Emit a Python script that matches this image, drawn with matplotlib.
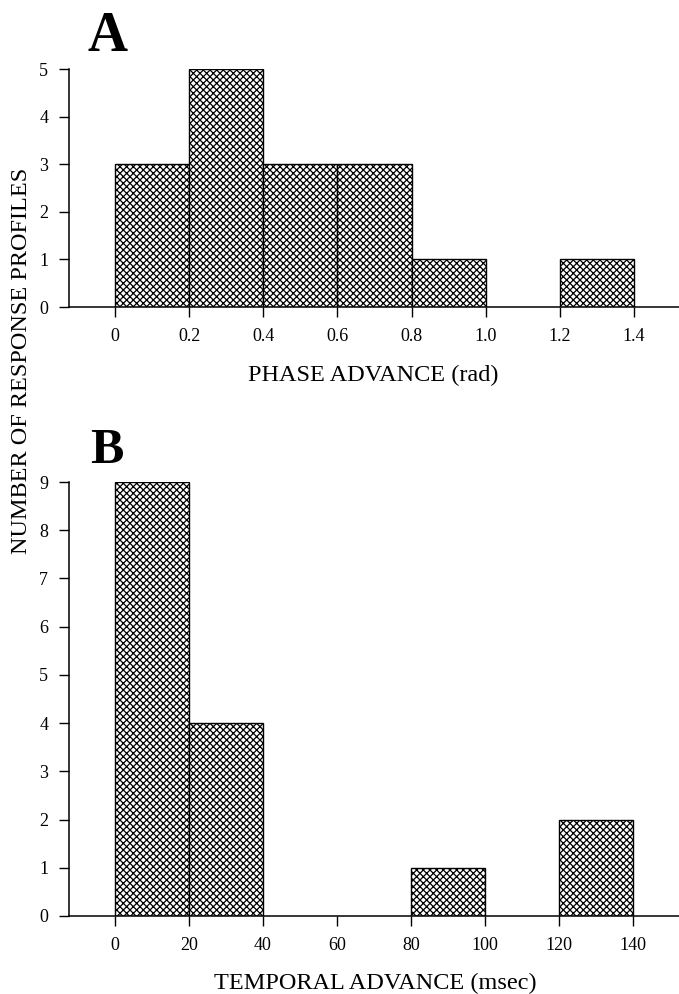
import matplotlib
matplotlib.use("Agg")
import matplotlib.pyplot as plt
import numpy as np

# ---- data ----
# A: phase advance histogram (rad)
phase_edges = [0, 0.2, 0.4, 0.6, 0.8, 1.0, 1.2, 1.4]
phase_counts = [3, 5, 3, 3, 1, 0, 1]
phase_ticks = [0, 0.2, 0.4, 0.6, 0.8, 1.0, 1.2, 1.4]
phase_ticklabels = ["0", "0.2", "0.4", "0.6", "0.8", "1.0", "1.2", "1.4"]

# B: temporal advance histogram (msec)
temp_edges = [0, 20, 40, 60, 80, 100, 120, 140]
temp_counts = [9, 4, 0, 0, 1, 0, 2]
temp_ticks = [0, 20, 40, 60, 80, 100, 120, 140]

plt.rcParams['font.family'] = ['Liberation Serif', 'DejaVu Serif']
plt.rcParams['hatch.linewidth'] = 0.9
plt.rcParams['hatch.color'] = 'black'

W, H = 679, 994
fig = plt.figure(figsize=(W / 100, H / 100), dpi=100)

def px_axes(left, top, right, bottom):
    return fig.add_axes([left / W, 1 - bottom / H, (right - left) / W, (bottom - top) / H])

def hist_panel(ax, edges, counts, ymax, xlim):
    lefts = np.array(edges[:-1])
    widths = np.diff(edges)
    for l, w, c in zip(lefts, widths, counts):
        if c > 0:
            ax.bar(l, c, width=w, align='edge', facecolor='white',
                   edgecolor='black', linewidth=1.0, hatch='xxxxx', zorder=2)
    ax.set_xlim(*xlim)
    ax.set_ylim(0, ymax)
    ax.set_yticks(range(0, ymax + 1))
    for s in ['top', 'right']:
        ax.spines[s].set_visible(False)
    ax.spines['left'].set_linewidth(1.1)
    ax.spines['bottom'].set_linewidth(1.1)
    ax.tick_params(axis='x', direction='out', length=7, width=1.0, pad=8, labelsize=13)
    ax.tick_params(axis='y', direction='out', length=7, width=1.0, pad=8, labelsize=13)

# panel A
axA = px_axes(69, 69, 679, 307)
hist_panel(axA, phase_edges, phase_counts, 5, (-0.124, 1.521))
axA.set_xticks(phase_ticks)
axA.set_xticklabels(phase_ticklabels)

# panel B
axB = px_axes(69, 482, 679, 916)
hist_panel(axB, temp_edges, temp_counts, 9, (-12.4, 152.4))
axB.set_xticks(temp_ticks)

fig.text(373 / W, 1 - 381 / H, "PHASE ADVANCE (rad)", fontsize=17.5,
         ha='center', va='baseline')
fig.text(375 / W, 1 - 989 / H, "TEMPORAL ADVANCE (msec)", fontsize=17.5,
         ha='center', va='baseline')

fig.text(22 / W, 1 - 361 / H, "NUMBER OF RESPONSE PROFILES", rotation=90,
         ha='center', va='center', fontsize=17.5)

fig.text(107 / W, 1 - 51 / H, "A", fontsize=40, fontweight='bold', ha='center', va='baseline')
fig.text(107 / W, 1 - 463 / H, "B", fontsize=36, fontweight='bold', ha='center', va='baseline')

fig.savefig("out.png", dpi=100)
